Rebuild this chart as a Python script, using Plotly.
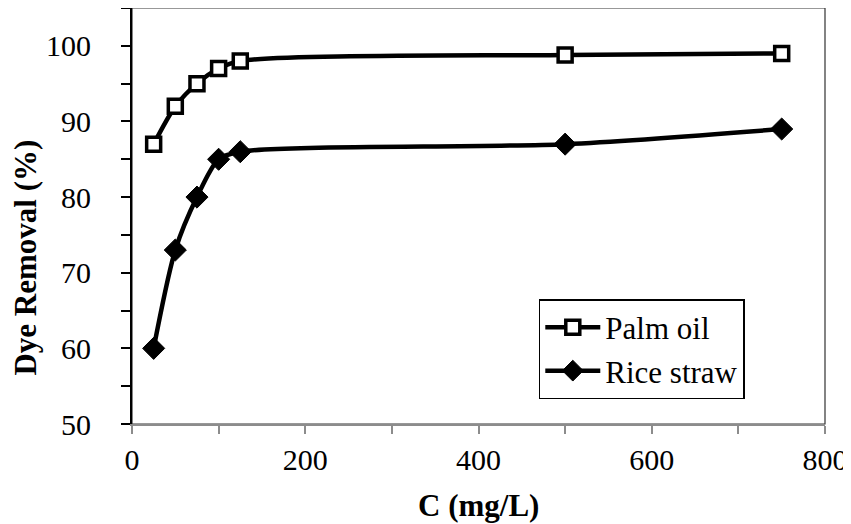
import plotly.graph_objects as go

conc = [25, 50, 75, 100, 125, 500, 750]
palm_oil = [87, 92, 95, 97, 98, 98.8, 99]
rice_straw = [60, 73, 80, 85, 86, 87, 89]

FONT = "Liberation Serif"

fig = go.Figure()
fig.add_trace(go.Scatter(
    x=conc, y=palm_oil, name="Palm oil", mode="lines+markers",
    line=dict(color="black", width=4.5, shape="spline", smoothing=0.8),
    marker=dict(symbol="square", size=14, color="white",
                line=dict(color="black", width=3.5)),
))
fig.add_trace(go.Scatter(
    x=conc, y=rice_straw, name="Rice straw", mode="lines+markers",
    line=dict(color="black", width=4.5, shape="spline", smoothing=0.8),
    marker=dict(symbol="diamond", size=17, color="black",
                line=dict(color="black", width=1)),
))

fig.add_shape(type="rect", xref="x domain", yref="y domain",
              x0=0, x1=1, y0=0, y1=1, line=dict(color="#333333", width=1.2),
              layer="below")

fig.add_annotation(text="<b>Dye Removal (%)</b>", xref="paper", yref="paper",
                   x=-0.153, y=0.40, xanchor="center", yanchor="middle",
                   textangle=-90, showarrow=False,
                   font=dict(family=FONT, size=31, color="black"))
fig.add_annotation(text="<b>C (mg/L)</b>", xref="paper", yref="paper",
                   x=0.5, y=-0.197, xanchor="center", yanchor="middle",
                   showarrow=False,
                   font=dict(family=FONT, size=31, color="black"))

fig.update_layout(
    width=851, height=524,
    margin=dict(l=124, r=34, t=0, b=108),
    paper_bgcolor="white", plot_bgcolor="white",
    font=dict(family=FONT, size=30, color="black"),
    showlegend=True,
    legend=dict(x=0.587, y=0.30, xanchor="left", yanchor="top",
                bgcolor="white", bordercolor="black", borderwidth=1.5,
                font=dict(family=FONT, size=31, color="black"),
                itemwidth=55, tracegroupgap=0),
)
fig.update_xaxes(
    range=[0, 800], dtick=200, tick0=0,
    showgrid=False, zeroline=False,
    showline=True, linecolor="#8c8c8c", linewidth=2,
    ticks="outside", ticklen=8, tickwidth=2, tickcolor="#8c8c8c",
    minor=dict(dtick=100, ticks="outside", ticklen=8, tickwidth=2, tickcolor="#8c8c8c", showgrid=False),
    tickfont=dict(family=FONT, size=30, color="black"),
)
fig.update_yaxes(
    range=[50, 105], dtick=10, tick0=50,
    showgrid=False, zeroline=False,
    showline=True, linecolor="black", linewidth=2,
    ticks="outside", ticklen=9, tickwidth=1.5, tickcolor="black",
    minor=dict(dtick=5, ticks="outside", ticklen=9, tickwidth=1.5, tickcolor="black", showgrid=False),
    tickfont=dict(family=FONT, size=30, color="black"),
    ticklabelstandoff=24,
)

fig.write_html("out.html")
